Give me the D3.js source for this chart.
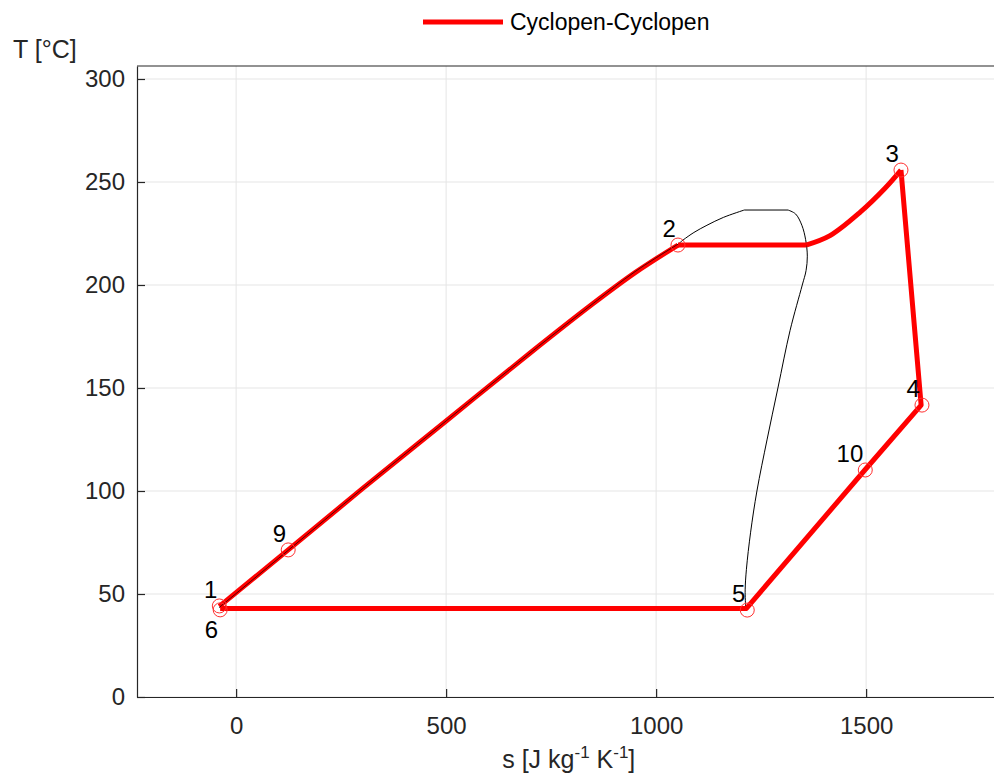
<!DOCTYPE html>
<html><head><meta charset="utf-8">
<script src="https://cdn.jsdelivr.net/npm/d3@7"></script>
<style>body{margin:0;background:#fff}svg{display:block;font-family:"Liberation Sans",Arial,sans-serif}</style>
</head><body>
<svg id="c" width="994" height="778"></svg>
<script>
// ---- data ----
const xTicks = [0, 500, 1000, 1500];
const yTicks = [0, 50, 100, 150, 200, 250, 300];
const seriesName = "Cyclopen-Cyclopen";
// cycle path (s [J/kg/K], T [°C])
const cycleS = [-40, 124, 300, 500, 700, 850, 950, 1052, 1357, 1414, 1486, 1545, 1583, 1631, 1497, 1215, -38];
const cycleT = [44, 71.4, 101, 134, 167, 191, 206, 219.4, 219.4, 224, 235.4, 247, 255.8, 141.7, 110.2, 43, 43];
// saturation dome: liquid line, flat top, vapour line
const liqS = [-40, 124, 300, 500, 700, 850, 950, 1052, 1064, 1090, 1121, 1160, 1210];
const liqT = [43.5, 71.2, 101, 134, 167, 191, 206.5, 219.8, 221.8, 225.5, 229, 232.8, 236.4];
const topS = [1210, 1314];
const topT = [236.4, 236.4];
const vapS = [1314, 1332, 1347, 1356, 1360, 1357, 1348, 1319, 1290, 1264, 1240, 1225, 1215, 1212, 1213];
const vapT = [236.4, 234.5, 229, 222, 214, 207, 200, 178, 150, 124.8, 100, 80, 62, 52, 44];
// state points
const ptLabels = ["1", "6", "9", "2", "3", "4", "10", "5"];
const ptS = [-40, -38, 124, 1052, 1583, 1633, 1498, 1217];
const ptT = [44.2, 42.3, 71.4, 219.4, 255.8, 141.7, 110.2, 42.2];
const ptLabelSide = ["ul", "bl", "ul", "ul", "ul", "ul", "ul", "ul"];

// ---- layout ----
const svg = d3.select("#c");
const L = 137, T0 = 66, B = 697;
const x = d3.scaleLinear().domain([-236, 1820]).range([L, L + 2056 * 0.42]);
const y = d3.scaleLinear().domain([0, 306.3]).range([B, B - 306.3 * 2.06]);
const R = x.range()[1];
const axisCol = "#262626";

// grid
svg.append("g").selectAll("line").data(xTicks).join("line")
  .attr("x1", d => x(d)).attr("x2", d => x(d)).attr("y1", T0).attr("y2", B)
  .attr("stroke", "#e5e5e5").attr("stroke-width", 1);
svg.append("g").selectAll("line").data(yTicks).join("line")
  .attr("x1", L).attr("x2", R).attr("y1", d => y(d)).attr("y2", d => y(d))
  .attr("stroke", "#e5e5e5").attr("stroke-width", 1);

// axes
const xa = svg.append("g").attr("transform", `translate(0,${B})`)
  .call(d3.axisBottom(x).tickValues(xTicks).tickFormat(d3.format("d")).tickSizeInner(-8).tickSizeOuter(0).tickPadding(20));
const ya = svg.append("g").attr("transform", `translate(${L},0)`)
  .call(d3.axisLeft(y).tickValues(yTicks).tickFormat(d3.format("d")).tickSizeInner(-8).tickSizeOuter(0).tickPadding(12));
[xa, ya].forEach(g => {
  g.select(".domain").attr("stroke", axisCol).attr("stroke-width", 1.2);
  g.selectAll(".tick line").attr("stroke", axisCol).attr("stroke-width", 1.2);
  g.selectAll(".tick text").attr("fill", axisCol).attr("font-size", 24).attr("font-family", '"Liberation Sans",Arial,sans-serif');
});
xa.selectAll(".tick text").attr("dy", "0.71em");
// top border
svg.append("line").attr("x1", L).attr("x2", R).attr("y1", T0).attr("y2", T0)
  .attr("stroke", axisCol).attr("stroke-width", 1.2);

const smooth = d3.line().x(d => x(d[0])).y(d => y(d[1])).curve(d3.curveCatmullRom.alpha(0.5));
const lin = d3.line().x(d => x(d[0])).y(d => y(d[1]));
const zip = (a, b) => a.map((v, i) => [v, b[i]]);

// dome
const dome = svg.append("g").attr("fill", "none").attr("stroke", "#000").attr("stroke-width", 1);
dome.append("path").attr("d", smooth(zip(liqS, liqT)));
dome.append("path").attr("d", lin(zip(topS, topT)));
dome.append("path").attr("d", smooth(zip(vapS, vapT)));

// cycle: split into smooth segments and straight parts
const pts = zip(cycleS, cycleT);
const seg1 = pts.slice(0, 8);      // liquid heating (1 -> 2)
const seg2 = pts.slice(7, 9);      // evaporation
const seg3 = pts.slice(8, 13);     // superheating
const seg4 = pts.slice(12);        // expansion, cooling, condensation
const cyc = svg.append("g").attr("fill", "none").attr("stroke", "#ff0000").attr("stroke-width", 5)
  .attr("stroke-linejoin", "round");
cyc.append("path").attr("d", smooth(seg1));
cyc.append("path").attr("d", lin(seg2));
cyc.append("path").attr("d", smooth(seg3));
cyc.append("path").attr("d", lin(seg4));
// dome liquid line drawn thin over red as in reference
svg.append("path").attr("d", smooth(zip(liqS, liqT).slice(0, 8)))
  .attr("fill", "none").attr("stroke", "#000").attr("stroke-width", 0.8).attr("opacity", 0.85);

// markers
svg.append("g").selectAll("circle").data(ptS).join("circle")
  .attr("cx", (d) => x(d)).attr("cy", (d, i) => y(ptT[i])).attr("r", 7)
  .attr("fill", "none").attr("stroke", "#ff3030").attr("stroke-width", 1);

// labels
svg.append("g").selectAll("text").data(ptLabels).join("text")
  .attr("x", (d, i) => x(ptS[i]) - 2)
  .attr("y", (d, i) => y(ptT[i]) + (ptLabelSide[i] === "bl" ? 28 : -8))
  .attr("text-anchor", "end").attr("font-size", 24).attr("fill", "#000")
  .text(d => d);

// axis titles
svg.append("text").attr("x", 13).attr("y", 58).attr("font-size", 25).attr("fill", axisCol).text("T [°C]");
const xl = svg.append("text").attr("x", (L + R) / 2).attr("y", 768).attr("text-anchor", "middle")
  .attr("font-size", 25).attr("fill", axisCol);
xl.append("tspan").text("s [J kg");
xl.append("tspan").attr("font-size", 17).attr("dy", -10).text("-1");
xl.append("tspan").attr("dy", 10).text(" K");
xl.append("tspan").attr("font-size", 17).attr("dy", -10).text("-1");
xl.append("tspan").attr("dy", 10).text("]");

// legend
const lg = svg.append("g");
lg.append("line").attr("x1", 423).attr("x2", 503).attr("y1", 22).attr("y2", 22)
  .attr("stroke", "#ff0000").attr("stroke-width", 5);
lg.append("text").attr("x", 510).attr("y", 30).attr("font-size", 23).attr("fill", "#000").text(seriesName);
</script>
</body></html>
